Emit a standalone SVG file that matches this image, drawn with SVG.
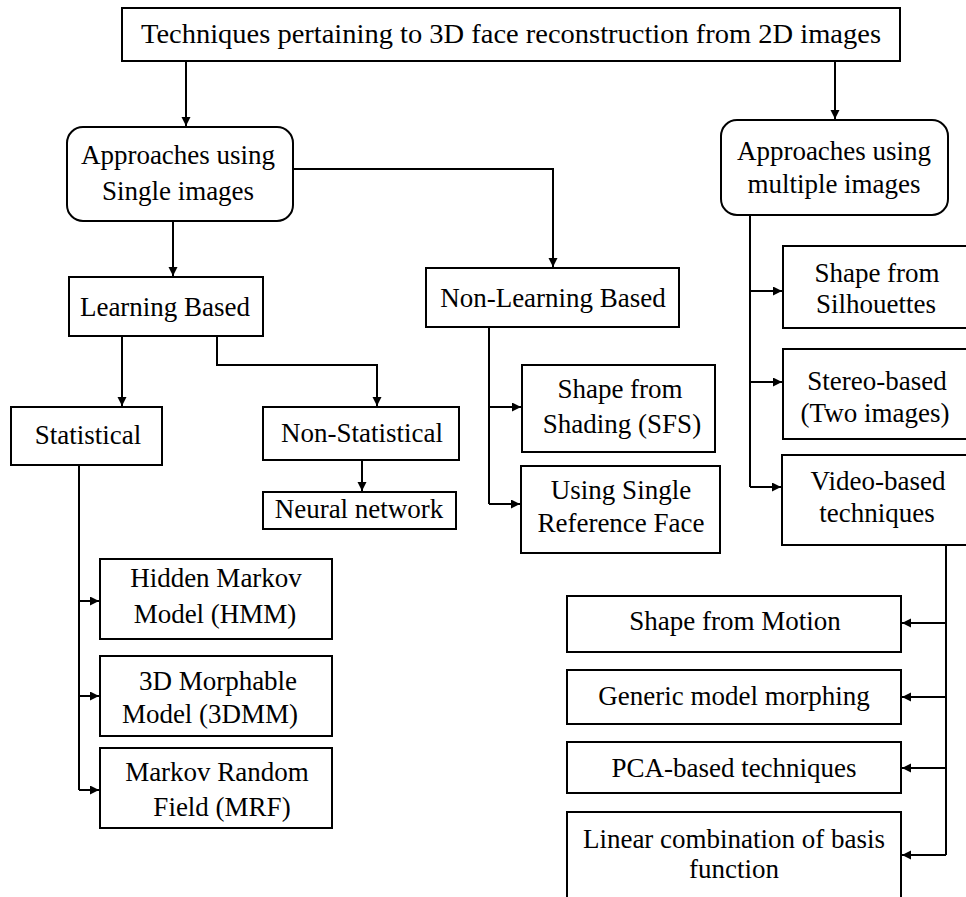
<svg xmlns="http://www.w3.org/2000/svg" width="966" height="897" viewBox="0 0 966 897">
<defs>
<marker id="ah" markerUnits="userSpaceOnUse" markerWidth="10" markerHeight="10" refX="9" refY="4.5" orient="auto">
<path d="M0,0 L9,4.5 L0,9 z" fill="#000"/>
</marker>
<style>
.b{fill:#fff;stroke:#000;stroke-width:2}
.c{fill:none;stroke:#000;stroke-width:2}
.a{marker-end:url(#ah)}
text{font-family:"Liberation Serif","Times New Roman",serif;font-size:27px;fill:#000;text-anchor:middle}
</style>
</defs>
<rect width="966" height="897" fill="#fff"/>
<g id="connectors">
<path class="c a" d="M186,61 V126"/>
<path class="c a" d="M835,61 V119"/>
<path class="c a" d="M173,221 V276"/>
<path class="c a" d="M293,169 H553 V267"/>
<path class="c a" d="M122,336 V406"/>
<path class="c a" d="M217,336 V365 H377 V406"/>
<path class="c a" d="M362,460 V491"/>
<path class="c" d="M489,327 V504"/>
<path class="c a" d="M489,407 H521"/>
<path class="c a" d="M489,504 H520"/>
<path class="c" d="M79,465 V790"/>
<path class="c a" d="M79,601 H99"/>
<path class="c a" d="M79,696 H99"/>
<path class="c a" d="M79,790 H99"/>
<path class="c" d="M750,215 V487"/>
<path class="c a" d="M750,291 H782"/>
<path class="c a" d="M750,382 H782"/>
<path class="c a" d="M750,487 H781"/>
<path class="c" d="M946,545 V855"/>
<path class="c a" d="M946,623 H902"/>
<path class="c a" d="M946,697 H902"/>
<path class="c a" d="M946,768 H902"/>
<path class="c a" d="M946,855 H902"/>
</g>
<g id="title">
<rect class="b" x="122" y="8" width="778" height="53"/>
<text x="511" y="43" textLength="740" lengthAdjust="spacingAndGlyphs">Techniques pertaining to 3D face reconstruction from 2D images</text>
</g>
<g id="single">
<rect class="b" x="67" y="127" width="226" height="94" rx="16"/>
<text x="178" y="164">Approaches using</text>
<text x="178" y="200">Single images</text>
</g>
<g id="multiple">
<rect class="b" x="721" y="120" width="227" height="95" rx="16"/>
<text x="834" y="160">Approaches using</text>
<text x="834" y="193">multiple images</text>
</g>
<g id="learning">
<rect class="b" x="69" y="277" width="194" height="59"/>
<text x="165" y="316">Learning Based</text>
</g>
<g id="nonlearning">
<rect class="b" x="426" y="268" width="253" height="59"/>
<text x="553" y="307">Non-Learning Based</text>
</g>
<g id="statistical">
<rect class="b" x="11" y="407" width="151" height="58"/>
<text x="88" y="444">Statistical</text>
</g>
<g id="nonstatistical">
<rect class="b" x="263" y="407" width="196" height="53"/>
<text x="362" y="442">Non-Statistical</text>
</g>
<g id="neural">
<rect class="b" x="263" y="492" width="193" height="37"/>
<text x="359" y="518">Neural network</text>
</g>
<g id="sfs">
<rect class="b" x="522" y="365" width="193" height="87"/>
<text x="620" y="398">Shape from</text>
<text x="622" y="433">Shading (SFS)</text>
</g>
<g id="reference">
<rect class="b" x="521" y="466" width="199" height="87"/>
<text x="621" y="499">Using Single</text>
<text x="621" y="532">Reference Face</text>
</g>
<g id="silhouettes">
<path class="b" d="M968,246 H783 V328 H968"/>
<text x="877" y="282">Shape from</text>
<text x="876" y="313">Silhouettes</text>
</g>
<g id="stereo">
<path class="b" d="M968,349 H783 V439 H968"/>
<text x="877" y="390" font-size="26">Stereo-based</text>
<text x="875" y="422" font-size="26">(Two images)</text>
</g>
<g id="video">
<path class="b" d="M968,455 H782 V545 H968"/>
<text x="878" y="490">Video-based</text>
<text x="877" y="522">techniques</text>
</g>
<g id="hmm">
<rect class="b" x="100" y="559" width="232" height="80"/>
<text x="216" y="587">Hidden Markov</text>
<text x="215" y="623">Model (HMM)</text>
</g>
<g id="3dmm">
<rect class="b" x="100" y="656" width="232" height="80"/>
<text x="218" y="690">3D Morphable</text>
<text x="210" y="723">Model (3DMM)</text>
</g>
<g id="mrf">
<rect class="b" x="100" y="748" width="232" height="80"/>
<text x="217" y="781">Markov Random</text>
<text x="222" y="816">Field (MRF)</text>
</g>
<g id="motion">
<rect class="b" x="567" y="596" width="334" height="56"/>
<text x="735" y="630">Shape from Motion</text>
</g>
<g id="generic">
<rect class="b" x="567" y="670" width="334" height="54"/>
<text x="734" y="705">Generic model morphing</text>
</g>
<g id="pca">
<rect class="b" x="567" y="742" width="334" height="51"/>
<text x="734" y="777">PCA-based techniques</text>
</g>
<g id="linear">
<path class="b" d="M567,900 V812 H901 V900"/>
<text x="734" y="848">Linear combination of basis</text>
<text x="734" y="878">function</text>
</g>
</svg>
